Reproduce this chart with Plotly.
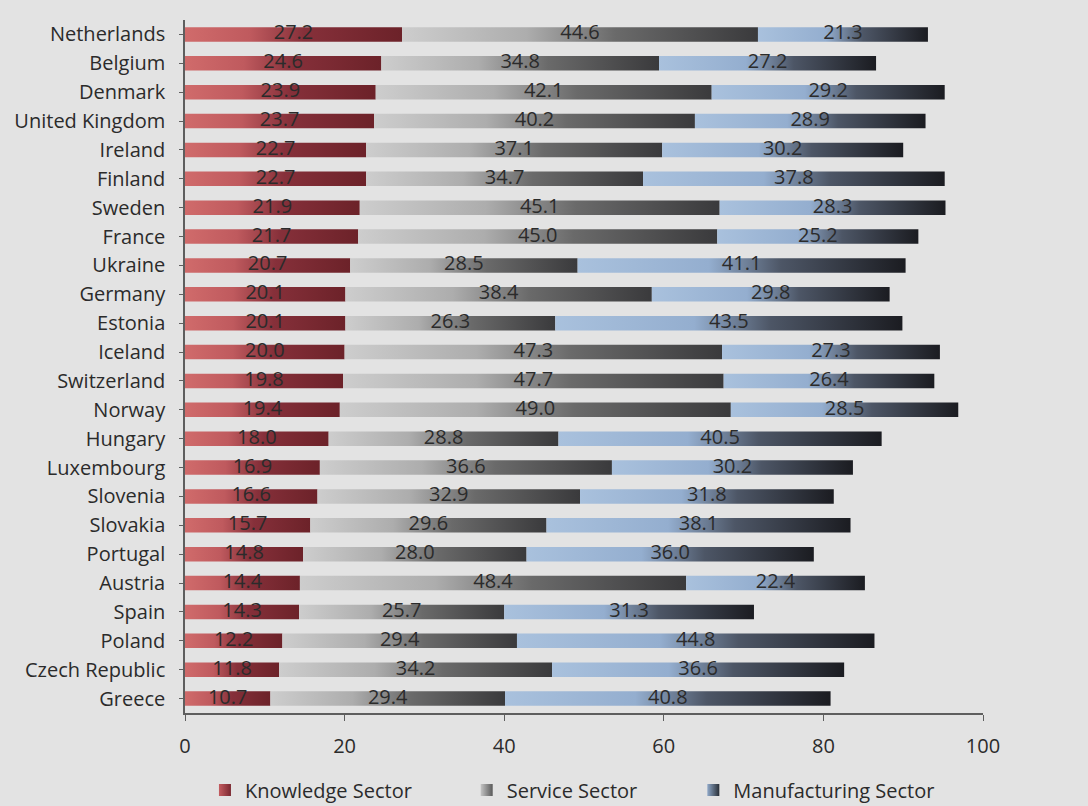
import plotly.graph_objects as go

countries = ["Netherlands", "Belgium", "Denmark", "United Kingdom", "Ireland", "Finland",
             "Sweden", "France", "Ukraine", "Germany", "Estonia", "Iceland", "Switzerland",
             "Norway", "Hungary", "Luxembourg", "Slovenia", "Slovakia", "Portugal", "Austria",
             "Spain", "Poland", "Czech Republic", "Greece"]
knowledge = [27.2, 24.6, 23.9, 23.7, 22.7, 22.7, 21.9, 21.7, 20.7, 20.1, 20.1, 20.0, 19.8,
             19.4, 18.0, 16.9, 16.6, 15.7, 14.8, 14.4, 14.3, 12.2, 11.8, 10.7]
service = [44.6, 34.8, 42.1, 40.2, 37.1, 34.7, 45.1, 45.0, 28.5, 38.4, 26.3, 47.3, 47.7,
           49.0, 28.8, 36.6, 32.9, 29.6, 28.0, 48.4, 25.7, 29.4, 34.2, 29.4]
manufacturing = [21.3, 27.2, 29.2, 28.9, 30.2, 37.8, 28.3, 25.2, 41.1, 29.8, 43.5, 27.3, 26.4,
                 28.5, 40.5, 30.2, 31.8, 38.1, 36.0, 22.4, 31.3, 44.8, 36.6, 40.8]
x_ticks = [0, 20, 40, 60, 80, 100]

# name, values, bar gradient, legend swatch (light, dark), legend id, legend x
sectors = [
    ("Knowledge Sector", knowledge,
     [[0, "#d06b6b"], [0.3, "#bf5a5e"], [0.55, "#86303a"], [1, "#6c2229"]],
     ("#c45c60", "#7a2830"), "legend", 0.025),
    ("Service Sector", service,
     [[0, "#cdcdcd"], [0.35, "#adadad"], [0.6, "#6a6a6a"], [1, "#3a3a3c"]],
     ("#c4c4c4", "#5a5a5a"), "legend2", 0.353),
    ("Manufacturing Sector", manufacturing,
     [[0, "#a9c1dd"], [0.4, "#94aecf"], [0.62, "#4d5666"], [1, "#1b1c21"]],
     ("#8fa8c8", "#2a3038"), "legend3", 0.637),
]

half = 0.25  # half bar thickness in category units
font = "Open Sans, Lato, sans-serif"
txt_col = "#2b2b2b"

fig = go.Figure()
base = [0.0] * len(countries)
label_x, label_y, label_t = [], [], []
for name, vals, cscale, swatch, leg, _ in sectors:
    for i, (c, v) in enumerate(zip(countries, vals)):
        b = base[i]
        fig.add_trace(go.Scatter(
            x=[b, b + v, b + v, b, b],
            y=[i - half, i - half, i + half, i + half, i - half],
            mode="none", fill="toself",
            fillgradient=dict(type="horizontal", colorscale=cscale),
            name=name, showlegend=False, hoverinfo="skip",
        ))
        label_x.append(b + v / 2)
        label_y.append(i)
        label_t.append(f"{v:.1f}")
        base[i] = b + v
    # legend swatch
    fig.add_trace(go.Scatter(
        x=[None], y=[None], mode="markers", name=name, legend=leg,
        marker=dict(symbol="square", size=12, color=swatch[0],
                    gradient=dict(type="horizontal", color=swatch[1])),
    ))

fig.add_trace(go.Scatter(
    x=label_x, y=label_y, text=label_t, mode="text",
    textposition="middle center",
    textfont=dict(family=font, size=20, color=txt_col),
    showlegend=False, hoverinfo="skip",
))

axis_col = "#5e5e5e"
leg_common = dict(orientation="h", y=-0.111, yanchor="middle", xanchor="left",
                  font=dict(family=font, size=20, color=txt_col), itemwidth=30,
                  bgcolor="rgba(0,0,0,0)")
legends = {leg: dict(leg_common, x=lx) for _, _, _, _, leg, lx in sectors}

fig.update_layout(
    width=1088, height=806,
    margin=dict(l=185, r=105, t=20, b=93, autoexpand=False),
    paper_bgcolor="#e3e3e3", plot_bgcolor="#e3e3e3",
    font=dict(family=font, size=19, color=txt_col),
    xaxis=dict(range=[0, 100], tickvals=x_ticks, showgrid=False, zeroline=False,
               showline=True, linecolor=axis_col, linewidth=1.5,
               ticks="outside", ticklen=6, tickcolor=axis_col,
               ticklabelstandoff=8, tickfont=dict(size=20)),
    yaxis=dict(range=[23.5, -0.5], tickvals=list(range(len(countries))), ticktext=countries,
               showgrid=False, zeroline=False, showline=True, linecolor=axis_col,
               linewidth=1.5, ticks="outside", ticklen=4, tickcolor=axis_col,
               ticklabelstandoff=10, tickfont=dict(size=20)),
    **legends,
)

fig.write_html("out.html")
